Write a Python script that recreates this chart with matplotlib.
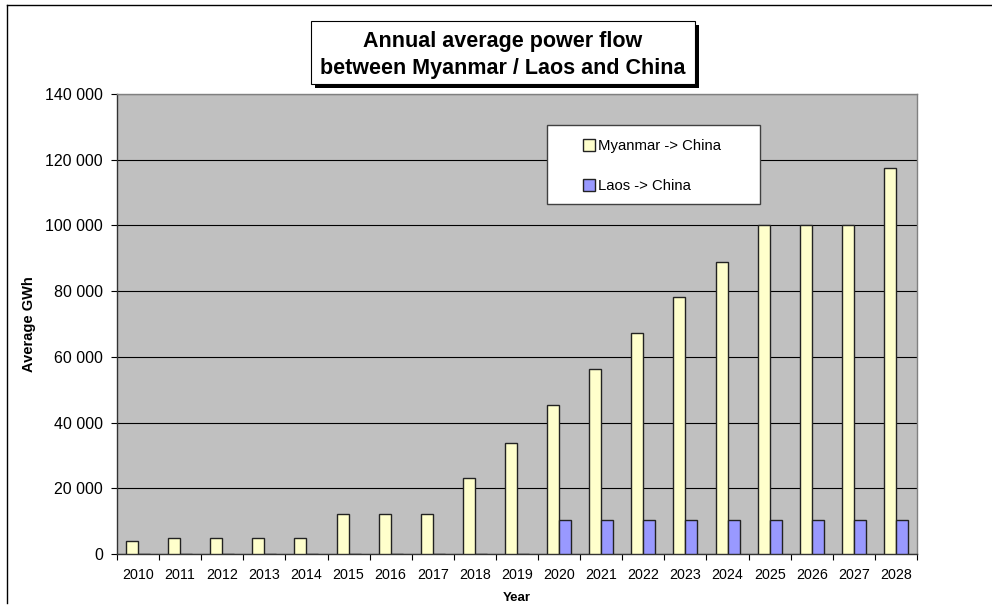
import matplotlib
matplotlib.use("Agg")
import matplotlib.pyplot as plt
from matplotlib.patches import Rectangle
from matplotlib.lines import Line2D
from matplotlib.ticker import FuncFormatter, FixedLocator
import numpy as np

plt.rcParams['font.family'] = ['Liberation Sans', 'DejaVu Sans']

years = [str(y) for y in range(2010, 2029)]
myanmar_china = [3900, 4900, 4900, 4900, 4900, 12200, 12200, 12200, 23100, 33900,
                 45400, 56300, 67300, 78100, 89000, 100000, 100000, 100000, 117600]
laos_china = [0, 0, 0, 0, 0, 0, 0, 0, 0, 0,
              10200, 10200, 10200, 10200, 10200, 10200, 10200, 10200, 10200]
yticks = [0, 20000, 40000, 60000, 80000, 100000, 120000, 140000]

W, H = 992, 614
fig = plt.figure(figsize=(W / 100, H / 100), dpi=100)
fig.patch.set_facecolor('white')

# outer frame lines (left and top)
fig.add_artist(Line2D([7 / W, 7 / W], [1 - 603 / H, 1 - 5 / H], color='black', lw=1.0))
fig.add_artist(Line2D([7 / W, 1.0], [1 - 5 / H, 1 - 5 / H], color='black', lw=1.0))

ax = fig.add_axes([117 / W, 1 - 554 / H, 800 / W, 460 / H])
ax.set_facecolor('#C0C0C0')

x = np.arange(len(years))
bw = 0.285
ax.bar(x - bw / 2, myanmar_china, width=bw, color='#FFFFCC', edgecolor='#222222',
       linewidth=1.0, label='Myanmar -> China', zorder=3)
ax.bar(x + bw / 2, laos_china, width=bw, color='#9999FF', edgecolor='#222222',
       linewidth=1.0, label='Laos -> China', zorder=3)

ax.set_xlim(-0.5, len(years) - 0.5)
ax.set_ylim(0, 140000)

ax.set_yticks(yticks)
ax.yaxis.set_major_formatter(FuncFormatter(lambda v, p: f"{int(v):,}".replace(',', ' ')))
ax.yaxis.grid(True, color='black', lw=0.8, zorder=1)
ax.set_axisbelow(True)

ax.set_xticks(x)
ax.set_xticklabels(years)
ax.xaxis.set_minor_locator(FixedLocator(np.arange(-0.5, len(years), 1.0)))
ax.tick_params(axis='x', which='major', length=0, pad=10, labelsize=10.3)
ax.tick_params(axis='x', which='minor', length=4, width=0.8, color='black')
ax.tick_params(axis='y', which='major', length=4, width=0.8, color='black', pad=6, labelsize=11.5)

for side in ('top', 'right'):
    ax.spines[side].set_color('#808080')
    ax.spines[side].set_linewidth(1.0)
for side in ('left', 'bottom'):
    ax.spines[side].set_color('#333333')
    ax.spines[side].set_linewidth(1.0)

ax.set_xlabel('Year', fontsize=9.5, fontweight='bold', labelpad=7)
fig.text(29 / W, 1 - 324 / H, 'Average GWh', rotation=90, fontsize=10.5,
         fontweight='bold', ha='center', va='center')

# legend frame
lx0, ly0, lx1, ly1 = 547, 125, 760, 204
ax.add_patch(Rectangle(((lx0 - 117) / 800, 1 - (ly1 - 94) / 460),
                       (lx1 - lx0) / 800, (ly1 - ly0) / 460,
                       transform=ax.transAxes, facecolor='white',
                       edgecolor='#404040', lw=1.0, zorder=5))
leg = ax.legend(loc='upper left', bbox_to_anchor=((583 - 117) / 800, 1 - (139 - 94) / 460),
                frameon=False, fontsize=10.7, handlelength=0.8, handleheight=0.8,
                handletextpad=0.2, labelspacing=1.75, borderpad=0, borderaxespad=0)
leg.set_zorder(6)

# title box with drop shadow
tx0, ty0, tx1, ty1 = 310.7, 21, 695, 84
sh = 4
fig.add_artist(Rectangle(((tx0 + sh) / W, 1 - (ty1 + sh) / H), (tx1 - tx0) / W, (ty1 - ty0) / H,
                         transform=fig.transFigure, facecolor='black', edgecolor='black', lw=0))
fig.add_artist(Rectangle((tx0 / W, 1 - ty1 / H), (tx1 - tx0) / W, (ty1 - ty0) / H,
                         transform=fig.transFigure, facecolor='white', edgecolor='black', lw=0.8))
fig.text((tx0 + tx1) / 2 / W, 1 - 55 / H,
         'Annual average power flow\nbetween Myanmar / Laos and China',
         ha='center', va='center', fontsize=15.5, fontweight='bold', linespacing=1.42)

fig.savefig('out.png', dpi=100)
